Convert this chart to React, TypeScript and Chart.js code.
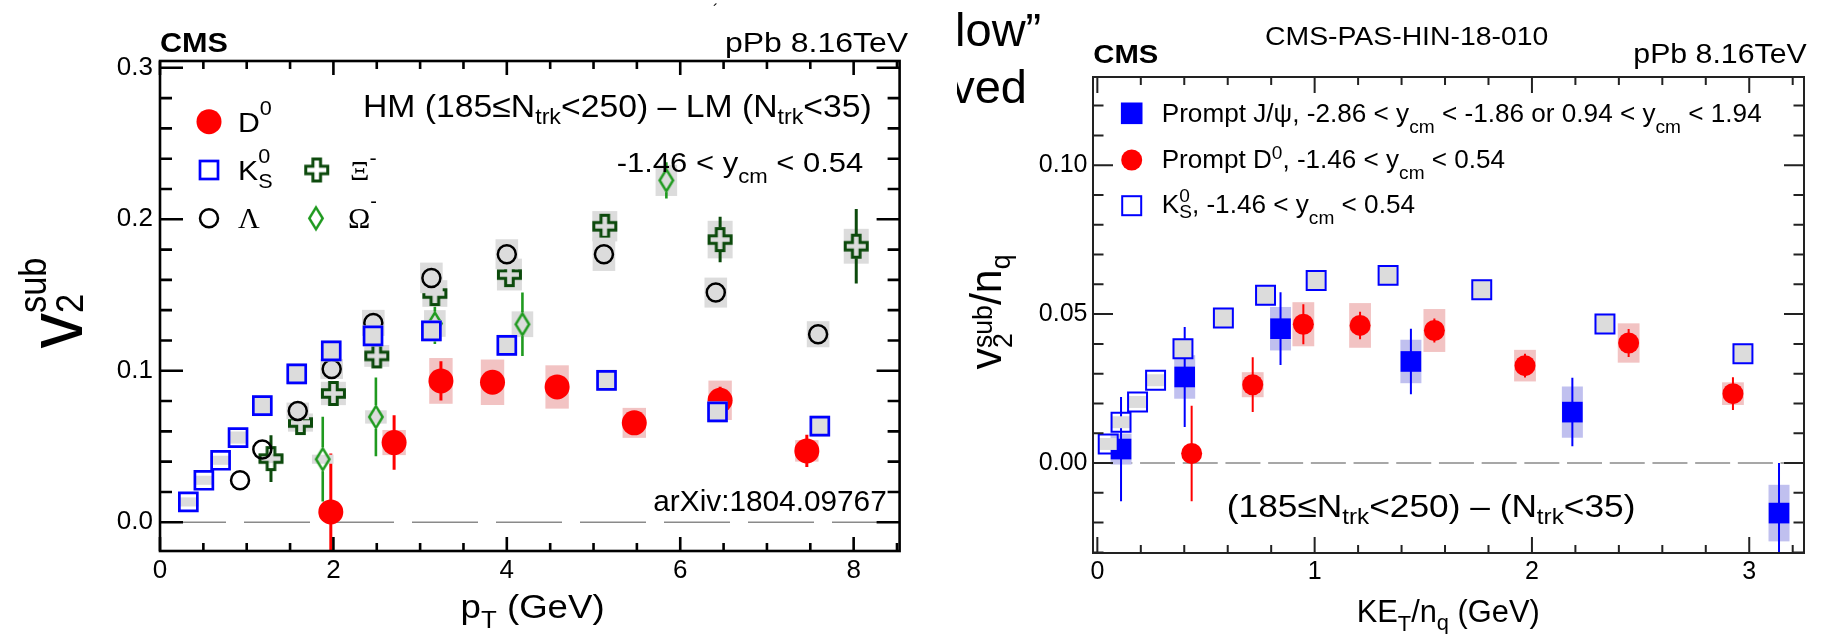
import React, { useEffect, useRef } from "react";
import { Chart, registerables } from "chart.js";
Chart.register(...registerables);

const SANS = "'Liberation Sans', Arial, Helvetica, sans-serif";
const SERIF = "'Liberation Serif', 'Times New Roman', serif";

// ---------------- Left panel: v2sub vs pT ----------------
const leftXRange = [0, 8.53];
const leftYRange = [-0.019, 0.3045];

const lD0X = [1.97, 2.7, 3.24, 3.835, 4.58, 5.47, 6.46, 7.46];
const lD0Y = [0.0068, 0.0526, 0.0933, 0.0924, 0.0893, 0.0656, 0.0805, 0.0471];
const lD0Err = [0.0385, 0.018, 0.013, 0.004, 0.002, 0.002, 0.009, 0.0107];
const lD0Sys = [0, 0.0083, 0.0151, 0.015, 0.0143, 0.0099, 0.013, 0.0071];

const lK0sX = [0.327, 0.506, 0.699, 0.9, 1.18, 1.577, 1.975, 2.457, 3.13, 4.0, 5.15, 6.43, 7.61];
const lK0sY = [0.0134, 0.0277, 0.0409, 0.0559, 0.077, 0.0979, 0.1131, 0.123, 0.1263, 0.1168, 0.0937, 0.0728, 0.0634];
const lK0sSys = [0.003, 0.003, 0.003, 0.004, 0.007, 0.007, 0.007, 0.007, 0.007, 0.007, 0.007, 0.007, 0.007];

const lLamX = [0.923, 1.18, 1.589, 1.98, 2.46, 3.13, 4.0, 5.12, 6.41, 7.59];
const lLamY = [0.0277, 0.048, 0.0735, 0.1012, 0.1316, 0.1613, 0.1769, 0.1769, 0.1516, 0.1241];
const lLamSys = [0, 0, 0.0055, 0.0066, 0.0086, 0.0101, 0.0099, 0.011, 0.0099, 0.0086];

const lXiX = [1.28, 1.62, 2.0, 2.5, 3.17, 4.03, 5.13, 6.46, 8.03];
const lXiY = [0.042, 0.0658, 0.085, 0.1098, 0.151, 0.1635, 0.1954, 0.1866, 0.1822];
const lXiErr = [0.0155, 0.004, 0.004, 0.005, 0.008, 0.005, 0.005, 0.015, 0.0246];
const lXiSys = [0.003, 0.006, 0.0077, 0.0072, 0.0088, 0.0105, 0.01, 0.0124, 0.0115];

const lOmX = [1.877, 2.49, 3.17, 4.18, 5.84];
const lOmY = [0.0416, 0.0695, 0.1312, 0.1307, 0.2257];
const lOmErr = [0.028, 0.026, 0.0135, 0.021, 0.012];
const lOmSys = [0.003, 0.0044, 0.0088, 0.0085, 0.0103];

// ---------------- Right panel: v2sub/nq vs KET/nq ----------------
const rightXRange = [-0.02, 3.252];
const rightYRange = [-0.0302, 0.1296];

const rJpsiX = [0.109, 0.402, 0.843, 1.443, 2.186, 3.137];
const rJpsiY = [0.0047, 0.0289, 0.0451, 0.0341, 0.0171, -0.0168];
const rJpsiErr = [0.0175, 0.0168, 0.0122, 0.011, 0.0115, 0.0168];
const rJpsiSys = [0.0052, 0.0073, 0.0073, 0.0073, 0.0086, 0.0095];

const rD0X = [0.434, 0.715, 0.948, 1.209, 1.551, 1.968, 2.445, 2.925];
const rD0Y = [0.0032, 0.0263, 0.0466, 0.0462, 0.0445, 0.0327, 0.0403, 0.0233];
const rD0Err = [0.016, 0.0092, 0.0067, 0.0046, 0.004, 0.004, 0.0047, 0.0055];
const rD0Sys = [0, 0.0042, 0.0074, 0.0075, 0.0072, 0.0053, 0.0066, 0.0038];

const rK0sX = [0.05, 0.109, 0.185, 0.268, 0.394, 0.58, 0.774, 1.007, 1.338, 1.769, 2.336, 2.971];
const rK0sY = [0.0064, 0.0137, 0.0205, 0.0278, 0.0384, 0.0487, 0.0563, 0.0613, 0.063, 0.0582, 0.0467, 0.0367];
const rK0sSys = [0.002, 0.002, 0.002, 0.002, 0.0033, 0.0034, 0.0034, 0.0034, 0.0034, 0.0034, 0.0034, 0.0034];

// ---------------- styles ----------------
const RED = "#ff0000";
const BLUE = "#0000ff";
const XI_GREEN = "#0c4a0c";
const OM_GREEN = "#1f9a1f";
const GRAY_BOX = "#dcdcdc";
const PINK_BOX = "#f2c3c3";
const BLUE_BOX = "#c0c0ef";

type Part = { t: string; s: number; dy?: number; adv?: boolean; f?: string; b?: boolean };
const fontOf = (p: Part) => `${p.b ? "bold " : ""}${p.s}px ${p.f || SANS}`;

function richWidth(ctx: CanvasRenderingContext2D, parts: Part[]) {
  let cur = 0, pend = 0;
  for (const p of parts) {
    ctx.font = fontOf(p);
    const w = ctx.measureText(p.t).width;
    if (p.adv === false) pend = Math.max(pend, w);
    else { cur += Math.max(w, pend); pend = 0; }
  }
  return cur + pend;
}

function drawRich(
  ctx: CanvasRenderingContext2D, parts: Part[], x: number, y: number,
  o: { align?: string; fit?: number; sx?: number; color?: string } = {}
) {
  const nat = richWidth(ctx, parts);
  const sx = o.fit ? o.fit / nat : o.sx ?? 1;
  const tot = nat * sx;
  const x0 = o.align === "right" ? x - tot : o.align === "center" ? x - tot / 2 : x;
  ctx.save();
  ctx.translate(x0, y);
  ctx.scale(sx, 1);
  ctx.fillStyle = o.color || "#000";
  ctx.textAlign = "left";
  ctx.textBaseline = "alphabetic";
  let cur = 0, pend = 0;
  for (const p of parts) {
    ctx.font = fontOf(p);
    const w = ctx.measureText(p.t).width;
    ctx.fillText(p.t, cur, p.dy || 0);
    if (p.adv === false) pend = Math.max(pend, w);
    else { cur += Math.max(w, pend); pend = 0; }
  }
  ctx.restore();
}

function drawRotated(ctx: CanvasRenderingContext2D, parts: Part[], bx: number, cy: number, fit: number) {
  ctx.save();
  ctx.translate(bx, cy);
  ctx.rotate(-Math.PI / 2);
  drawRich(ctx, parts, 0, 0, { align: "center", fit });
  ctx.restore();
}

function makeCross(color: string, half: number, arm: number, lw: number) {
  const size = Math.ceil(2 * half + lw + 4);
  const c = document.createElement("canvas");
  c.width = size; c.height = size;
  const g = c.getContext("2d")!;
  g.translate(size / 2, size / 2);
  const s = half, a = arm;
  g.beginPath();
  g.moveTo(-a, -s); g.lineTo(a, -s); g.lineTo(a, -a); g.lineTo(s, -a); g.lineTo(s, a); g.lineTo(a, a);
  g.lineTo(a, s); g.lineTo(-a, s); g.lineTo(-a, a); g.lineTo(-s, a); g.lineTo(-s, -a); g.lineTo(-a, -a);
  g.closePath();
  g.lineWidth = lw; g.strokeStyle = color; g.lineJoin = "miter"; g.stroke();
  return c;
}

function makeDiamond(color: string, hw: number, hh: number, lw: number) {
  const w = Math.ceil(2 * hw + lw + 4), h = Math.ceil(2 * hh + lw + 4);
  const c = document.createElement("canvas");
  c.width = w; c.height = h;
  const g = c.getContext("2d")!;
  g.translate(w / 2, h / 2);
  g.beginPath();
  g.moveTo(0, -hh); g.lineTo(hw, 0); g.lineTo(0, hh); g.lineTo(-hw, 0); g.closePath();
  g.lineWidth = lw; g.strokeStyle = color; g.stroke();
  return c;
}

const pts = (xs: number[], ys: number[]) => xs.map((x, i) => ({ x, y: ys[i] }));

// error bars and systematic boxes, drawn just before each dataset's markers
const errBoxPlugin = {
  id: "errBox",
  beforeDatasetDraw(chart: any, args: any) {
    const ds = chart.data.datasets[args.index];
    const { ctx, chartArea: ca } = chart;
    const x = chart.scales.x, y = chart.scales.y;
    ctx.save();
    ctx.beginPath();
    ctx.rect(ca.left, ca.top, ca.right - ca.left, ca.bottom - ca.top);
    ctx.clip();
    ds.data.forEach((p: any, i: number) => {
      const px = x.getPixelForValue(p.x), py = y.getPixelForValue(p.y);
      if (ds.sys && ds.sys[i] > 0) {
        const t = y.getPixelForValue(p.y + ds.sys[i]);
        const b = y.getPixelForValue(p.y - ds.sys[i]);
        ctx.fillStyle = ds.boxColor;
        ctx.fillRect(px - ds.boxHalfW, t, 2 * ds.boxHalfW, b - t);
      }
      if (ds.err && ds.err[i] > 0) {
        const t = y.getPixelForValue(p.y + ds.err[i]);
        const b = y.getPixelForValue(p.y - ds.err[i]);
        const g = ds.errGap || 0;
        ctx.strokeStyle = ds.errColor;
        ctx.lineWidth = ds.errWidth;
        ctx.beginPath();
        if (t < py - g) { ctx.moveTo(px, t); ctx.lineTo(px, py - g); }
        if (b > py + g) { ctx.moveTo(px, py + g); ctx.lineTo(px, b); }
        ctx.stroke();
      }
    });
    ctx.restore();
  },
};

type FrameOpt = {
  lw: number; color: string;
  xStep: number; xMajor: number; xMajLen: number; xMinLen: number;
  yStep: number; yMajor: number; yMajLen: number; yMinLen: number;
  dash: number[]; zeroFrom: number;
};

function isMajor(v: number, m: number) {
  const r = v / m;
  return Math.abs(r - Math.round(r)) < 1e-6;
}

function drawFrame(chart: any, o: FrameOpt) {
  const { ctx, chartArea: ca } = chart;
  const x = chart.scales.x, y = chart.scales.y;
  ctx.save();
  ctx.strokeStyle = o.color;
  ctx.lineWidth = o.lw;
  ctx.beginPath();
  for (let k = Math.ceil(x.min / o.xStep - 1e-9); k * o.xStep <= x.max + 1e-9; k++) {
    const v = k * o.xStep;
    const px = x.getPixelForValue(v);
    const len = isMajor(v, o.xMajor) ? o.xMajLen : o.xMinLen;
    ctx.moveTo(px, ca.bottom); ctx.lineTo(px, ca.bottom - len);
    ctx.moveTo(px, ca.top); ctx.lineTo(px, ca.top + len);
  }
  for (let k = Math.ceil(y.min / o.yStep - 1e-9); k * o.yStep <= y.max + 1e-9; k++) {
    const v = k * o.yStep;
    const py = y.getPixelForValue(v);
    const len = isMajor(v, o.yMajor) ? o.yMajLen : o.yMinLen;
    ctx.moveTo(ca.left, py); ctx.lineTo(ca.left + len, py);
    ctx.moveTo(ca.right, py); ctx.lineTo(ca.right - len, py);
  }
  ctx.stroke();
  ctx.strokeRect(ca.left, ca.top, ca.right - ca.left, ca.bottom - ca.top);
  ctx.restore();
}

function zeroLine(chart: any, o: FrameOpt) {
  const { ctx, chartArea: ca } = chart;
  const x = chart.scales.x, y = chart.scales.y;
  const py = y.getPixelForValue(0);
  ctx.save();
  ctx.strokeStyle = "#8a8a8a";
  ctx.lineWidth = 1.6;
  ctx.setLineDash(o.dash);
  ctx.beginPath();
  ctx.moveTo(x.getPixelForValue(o.zeroFrom), py);
  ctx.lineTo(ca.right, py);
  ctx.stroke();
  ctx.restore();
}

const leftFrame: FrameOpt = {
  lw: 2.6, color: "#000",
  xStep: 0.5, xMajor: 2, xMajLen: 14, xMinLen: 8,
  yStep: 0.02, yMajor: 0.1, yMajLen: 23, yMinLen: 12,
  dash: [66, 18], zeroFrom: 0,
};
const rightFrame: FrameOpt = {
  lw: 2, color: "#222",
  xStep: 0.2, xMajor: 1, xMajLen: 16, xMinLen: 8,
  yStep: 0.01, yMajor: 0.05, yMajLen: 20, yMinLen: 10.5,
  dash: [35, 7.7], zeroFrom: 0,
};

function leftDecor(xi: HTMLCanvasElement, om: HTMLCanvasElement) {
  return {
    id: "leftDecor",
    beforeDatasetsDraw(chart: any) { zeroLine(chart, leftFrame); },
    afterDraw(chart: any) {
      const ctx: CanvasRenderingContext2D = chart.ctx;
      drawFrame(chart, leftFrame);
      drawRich(ctx, [{ t: "CMS", s: 28, b: true }], 160, 51.7, { fit: 68 });
      drawRich(ctx, [{ t: "pPb 8.16TeV", s: 28 }], 725, 51.7, { fit: 183 });
      drawRich(ctx, [{ t: "\u00b4", s: 16 }], 713, 16, {});
      drawRich(ctx, [
        { t: "HM (185\u2264N", s: 32 }, { t: "trk", s: 22, dy: 7 },
        { t: "<250) \u2013 LM (N", s: 32 }, { t: "trk", s: 22, dy: 7 }, { t: "<35)", s: 32 },
      ], 363, 116.7, { fit: 508.7 });
      drawRich(ctx, [{ t: "-1.46 < y", s: 28 }, { t: "cm", s: 20, dy: 11 }, { t: " < 0.54", s: 28 }],
        616.7, 171.7, { fit: 246.6 });
      drawRich(ctx, [{ t: "arXiv:1804.09767", s: 29 }], 653.3, 510.7, { fit: 233.4 });
      // legend
      ctx.save();
      ctx.fillStyle = RED;
      ctx.beginPath(); ctx.arc(209, 121.7, 12.5, 0, Math.PI * 2); ctx.fill();
      ctx.strokeStyle = BLUE; ctx.lineWidth = 2.7;
      ctx.strokeRect(209 - 9, 170 - 9, 18, 18);
      ctx.strokeStyle = "#000"; ctx.lineWidth = 2.5;
      ctx.beginPath(); ctx.arc(209, 218.3, 9, 0, Math.PI * 2); ctx.stroke();
      ctx.drawImage(xi, 316.7 - xi.width / 2, 170 - xi.height / 2);
      ctx.drawImage(om, 316 - om.width / 2, 218.3 - om.height / 2);
      ctx.restore();
      drawRich(ctx, [{ t: "D", s: 28 }, { t: "0", s: 20, dy: -17 }], 238, 131.7, { sx: 1.08 });
      drawRich(ctx, [{ t: "K", s: 28 }, { t: "0", s: 20, dy: -17, adv: false }, { t: "S", s: 20, dy: 8 }], 238, 180, { sx: 1.08 });
      drawRich(ctx, [{ t: "\u039e", s: 28, f: SERIF }, { t: "-", s: 20, dy: -15 }], 350, 180, { sx: 1.08 });
      drawRich(ctx, [{ t: "\u039b", s: 30, f: SERIF }], 238, 228.3, { sx: 1.0 });
      drawRich(ctx, [{ t: "\u03a9", s: 30, f: SERIF }, { t: "-", s: 20, dy: -20 }], 348, 228.3, { sx: 1.0 });
      // axis titles
      drawRich(ctx, [{ t: "p", s: 34 }, { t: "T", s: 24, dy: 10 }, { t: " (GeV)", s: 34 }], 532.6, 618, { align: "center", fit: 144 });
      drawRotated(ctx, [{ t: "v", s: 78 }, { t: "sub", s: 38, dy: -36, adv: false }, { t: "2", s: 38, dy: 1 }], 82, 303, 91);
    },
  };
}

const OX = 915;
function rightDecor() {
  return {
    id: "rightDecor",
    beforeDatasetsDraw(chart: any) { zeroLine(chart, rightFrame); },
    afterDraw(chart: any) {
      const ctx: CanvasRenderingContext2D = chart.ctx;
      drawFrame(chart, rightFrame);
      // slide remnants
      ctx.save();
      ctx.beginPath(); ctx.rect(957 - OX, 0, 200, 120); ctx.clip();
      drawRich(ctx, [{ t: "flow\u201d", s: 47 }], 942 - OX, 46, {});
      drawRich(ctx, [{ t: "ved", s: 47 }], 1027 - OX, 103, { align: "right" });
      ctx.restore();
      drawRich(ctx, [{ t: "CMS-PAS-HIN-18-010", s: 26 }], 1265 - OX, 45, { fit: 283.3 });
      drawRich(ctx, [{ t: "CMS", s: 26, b: true }], 1093.3 - OX, 63.3, { fit: 65 });
      drawRich(ctx, [{ t: "pPb 8.16TeV", s: 28 }], 1633.3 - OX, 63.3, { fit: 173.4 });
      // legend
      ctx.save();
      ctx.fillStyle = BLUE;
      ctx.fillRect(1131.7 - OX - 10.8, 113.3 - 10.8, 21.6, 21.6);
      ctx.fillStyle = RED;
      ctx.beginPath(); ctx.arc(1131.7 - OX, 160, 10.5, 0, Math.PI * 2); ctx.fill();
      ctx.strokeStyle = BLUE; ctx.lineWidth = 2;
      ctx.strokeRect(1131.7 - OX - 9.5, 205.7 - 9.5, 19, 19);
      ctx.restore();
      drawRich(ctx, [
        { t: "Prompt J/\u03c8, -2.86 < y", s: 26 }, { t: "cm", s: 19, dy: 11 },
        { t: " < -1.86 or 0.94 < y", s: 26 }, { t: "cm", s: 19, dy: 11 }, { t: " < 1.94", s: 26 },
      ], 1161.7 - OX, 121.7, { fit: 600 });
      drawRich(ctx, [
        { t: "Prompt D", s: 26 }, { t: "0", s: 19, dy: -9 }, { t: ", -1.46 < y", s: 26 },
        { t: "cm", s: 19, dy: 11 }, { t: " < 0.54", s: 26 },
      ], 1161.7 - OX, 168.3, { fit: 343.3 });
      drawRich(ctx, [
        { t: "K", s: 26 }, { t: "0", s: 19, dy: -11, adv: false }, { t: "S", s: 19, dy: 5 },
        { t: ", -1.46 < y", s: 26 }, { t: "cm", s: 19, dy: 11 }, { t: " < 0.54", s: 26 },
      ], 1161.7 - OX, 213.3, { fit: 253.3 });
      drawRich(ctx, [
        { t: "(185\u2264N", s: 32 }, { t: "trk", s: 22, dy: 7 },
        { t: "<250) \u2013 (N", s: 32 }, { t: "trk", s: 22, dy: 7 }, { t: "<35)", s: 32 },
      ], 1226.8 - OX, 517, { fit: 408.6 });
      // axis titles
      drawRich(ctx, [
        { t: "KE", s: 31 }, { t: "T", s: 22, dy: 9 }, { t: "/n", s: 31 }, { t: "q", s: 22, dy: 8 }, { t: " (GeV)", s: 31 },
      ], 1356.7 - OX, 621.7, { fit: 183 });
      drawRotated(ctx, [
        { t: "v", s: 45 }, { t: "sub", s: 28, dy: -9, adv: false }, { t: "2", s: 28, dy: 11 },
        { t: "/n", s: 45 }, { t: "q", s: 28, dy: 9 },
      ], 1001 - OX, 312, 115);
    },
  };
}

function axisOpts(range: number[], step: number, size: number, pad: number, fit: (s: any) => void, digits: number) {
  return {
    type: "linear" as const,
    min: range[0],
    max: range[1],
    afterFit: fit,
    grid: { display: false, drawTicks: false },
    border: { display: false },
    ticks: {
      stepSize: step,
      includeBounds: false,
      autoSkip: false,
      maxRotation: 0,
      padding: pad,
      color: "#000",
      font: { family: SANS, size },
      callback: (v: any) => Number(v).toFixed(digits),
    },
  };
}

const baseOptions = {
  animation: false as const,
  responsive: false,
  events: [] as any[],
  plugins: { legend: { display: false }, tooltip: { enabled: false } },
};

export default function App() {
  const leftRef = useRef<HTMLCanvasElement>(null);
  const rightRef = useRef<HTMLCanvasElement>(null);

  useEffect(() => {
    const xi = makeCross(XI_GREEN, 11, 3.8, 3);
    const om = makeDiamond(OM_GREEN, 6.7, 10.8, 2.5);

    const left = new Chart(leftRef.current!, {
      type: "scatter",
      data: {
        datasets: [
          {
            label: "K0S", data: pts(lK0sX, lK0sY), pointStyle: "rect", pointRadius: 12.7,
            borderColor: BLUE, backgroundColor: "rgba(0,0,0,0)", borderWidth: 2.7,
            sys: lK0sSys, boxColor: GRAY_BOX, boxHalfW: 10,
          },
          {
            label: "Lambda", data: pts(lLamX, lLamY), pointStyle: "circle", pointRadius: 9,
            borderColor: "#000", backgroundColor: "rgba(0,0,0,0)", borderWidth: 2.5,
            sys: lLamSys, boxColor: GRAY_BOX, boxHalfW: 11.3,
          },
          {
            label: "Xi", data: pts(lXiX, lXiY), pointStyle: xi, pointRadius: 12,
            borderColor: XI_GREEN, backgroundColor: "rgba(0,0,0,0)", borderWidth: 0,
            sys: lXiSys, boxColor: GRAY_BOX, boxHalfW: 12.5,
            err: lXiErr, errColor: XI_GREEN, errWidth: 3, errGap: 12,
          },
          {
            label: "Omega", data: pts(lOmX, lOmY), pointStyle: om, pointRadius: 11,
            borderColor: OM_GREEN, backgroundColor: "rgba(0,0,0,0)", borderWidth: 0,
            sys: lOmSys, boxColor: GRAY_BOX, boxHalfW: 10.8,
            err: lOmErr, errColor: OM_GREEN, errWidth: 2.6, errGap: 12,
          },
          {
            label: "D0", data: pts(lD0X, lD0Y), pointStyle: "circle", pointRadius: 12.5,
            borderColor: RED, backgroundColor: RED, borderWidth: 0,
            sys: lD0Sys, boxColor: PINK_BOX, boxHalfW: 11.7,
            err: lD0Err, errColor: RED, errWidth: 3, errGap: 0,
          },
        ] as any,
      },
      options: {
        ...baseOptions,
        layout: { padding: { top: 61, right: 5, left: 0, bottom: 0 } },
        scales: {
          x: axisOpts(leftXRange, 2, 26, 4, (s: any) => { s.height = 83; }, 0),
          y: axisOpts(leftYRange, 0.1, 26, 7, (s: any) => { s.width = 160; }, 1),
        },
      } as any,
      plugins: [errBoxPlugin, leftDecor(xi, om)],
    });

    const right = new Chart(rightRef.current!, {
      type: "scatter",
      data: {
        datasets: [
          {
            label: "K0S", data: pts(rK0sX, rK0sY), pointStyle: "rect", pointRadius: 13.4,
            borderColor: BLUE, backgroundColor: "rgba(0,0,0,0)", borderWidth: 2,
            sys: rK0sSys, boxColor: GRAY_BOX, boxHalfW: 9.5,
          },
          {
            label: "D0", data: pts(rD0X, rD0Y), pointStyle: "circle", pointRadius: 10.5,
            borderColor: RED, backgroundColor: RED, borderWidth: 0,
            sys: rD0Sys, boxColor: PINK_BOX, boxHalfW: 10.9,
            err: rD0Err, errColor: RED, errWidth: 2, errGap: 0,
          },
          {
            label: "Jpsi", data: pts(rJpsiX, rJpsiY), pointStyle: "rect", pointRadius: 14.6,
            borderColor: BLUE, backgroundColor: BLUE, borderWidth: 0,
            sys: rJpsiSys, boxColor: BLUE_BOX, boxHalfW: 10.5,
            err: rJpsiErr, errColor: BLUE, errWidth: 2, errGap: 0,
          },
        ] as any,
      },
      options: {
        ...baseOptions,
        layout: { padding: { top: 77, right: 22, left: 0, bottom: 0 } },
        scales: {
          x: axisOpts(rightXRange, 1, 25, 4, (s: any) => { s.height = 81; }, 0),
          y: axisOpts(rightYRange, 0.05, 25, 5.5, (s: any) => { s.width = 178; }, 2),
        },
      } as any,
      plugins: [errBoxPlugin, rightDecor()],
    });

    return () => {
      left.destroy();
      right.destroy();
    };
  }, []);

  return (
    <div style={{ position: "absolute", left: 0, top: 0, width: 1826, height: 634, background: "#fff", overflow: "hidden" }}>
      <canvas ref={leftRef} width={915} height={634} style={{ position: "absolute", left: 0, top: 0 }} />
      <canvas ref={rightRef} width={911} height={634} style={{ position: "absolute", left: OX, top: 0 }} />
    </div>
  );
}
